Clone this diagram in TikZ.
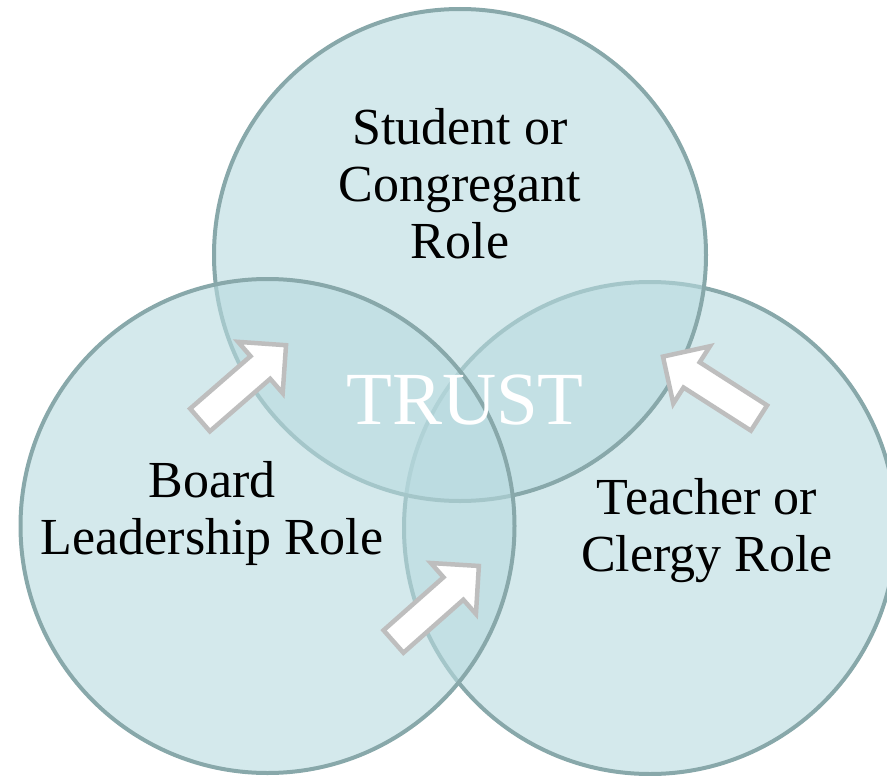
\documentclass[tikz,border=0pt]{standalone}
\usepackage{fontspec}
\setmainfont{Liberation Serif}
\definecolor{circfill}{RGB}{184,218,223}
\definecolor{circline}{RGB}{136,168,170}
\definecolor{arrline}{RGB}{190,190,190}
\tikzset{
  venn/.style={fill=circfill, fill opacity=0.6, draw=circline, line width=4pt},
  blockarrow/.style={fill=white, draw=arrline, line width=4.5pt, line join=miter},
  lbl/.style={align=center, text=black, font=\fontsize{52}{57}\selectfont, inner sep=0pt},
  trustlbl/.style={text=white, font=\fontsize{75}{80}\selectfont, inner sep=0pt}
}
\newcommand{\blockarr}[3]{%
  \begin{scope}[shift={(#1,#2)}, rotate=#3]
    \draw[blockarrow] (0,-15) -- (80,-15) -- (80,-34) -- (114,0) -- (80,34) -- (80,15) -- (0,15) -- cycle;
  \end{scope}}
\begin{document}
\begin{tikzpicture}[x=1pt,y=-1pt]
  \clip (0,0) rectangle (887,776);
  % circles: right, top, left
  \path[venn] (650,528) circle[radius=246] coordinate (rc);
  \path[venn] (460,255) circle[radius=246] coordinate (tc);
  \path[venn] (267.5,526) circle[radius=247] coordinate (lc);
  % arrows
  \blockarr{200}{420}{41}
  \blockarr{759}{418}{147.4}
  \blockarr{393.5}{641.5}{41.5}
  % labels
  \node[lbl] (student) at (460,184) {Student or\\Congregant\\Role};
  \node[lbl] (board) at (212,513) {Board\\Leadership Role};
  \node[lbl] (teacher) at (707,531) {Teacher or\\Clergy Role};
  \node[trustlbl] (trust) at (465,400) {TRUST};
\end{tikzpicture}
\end{document}
